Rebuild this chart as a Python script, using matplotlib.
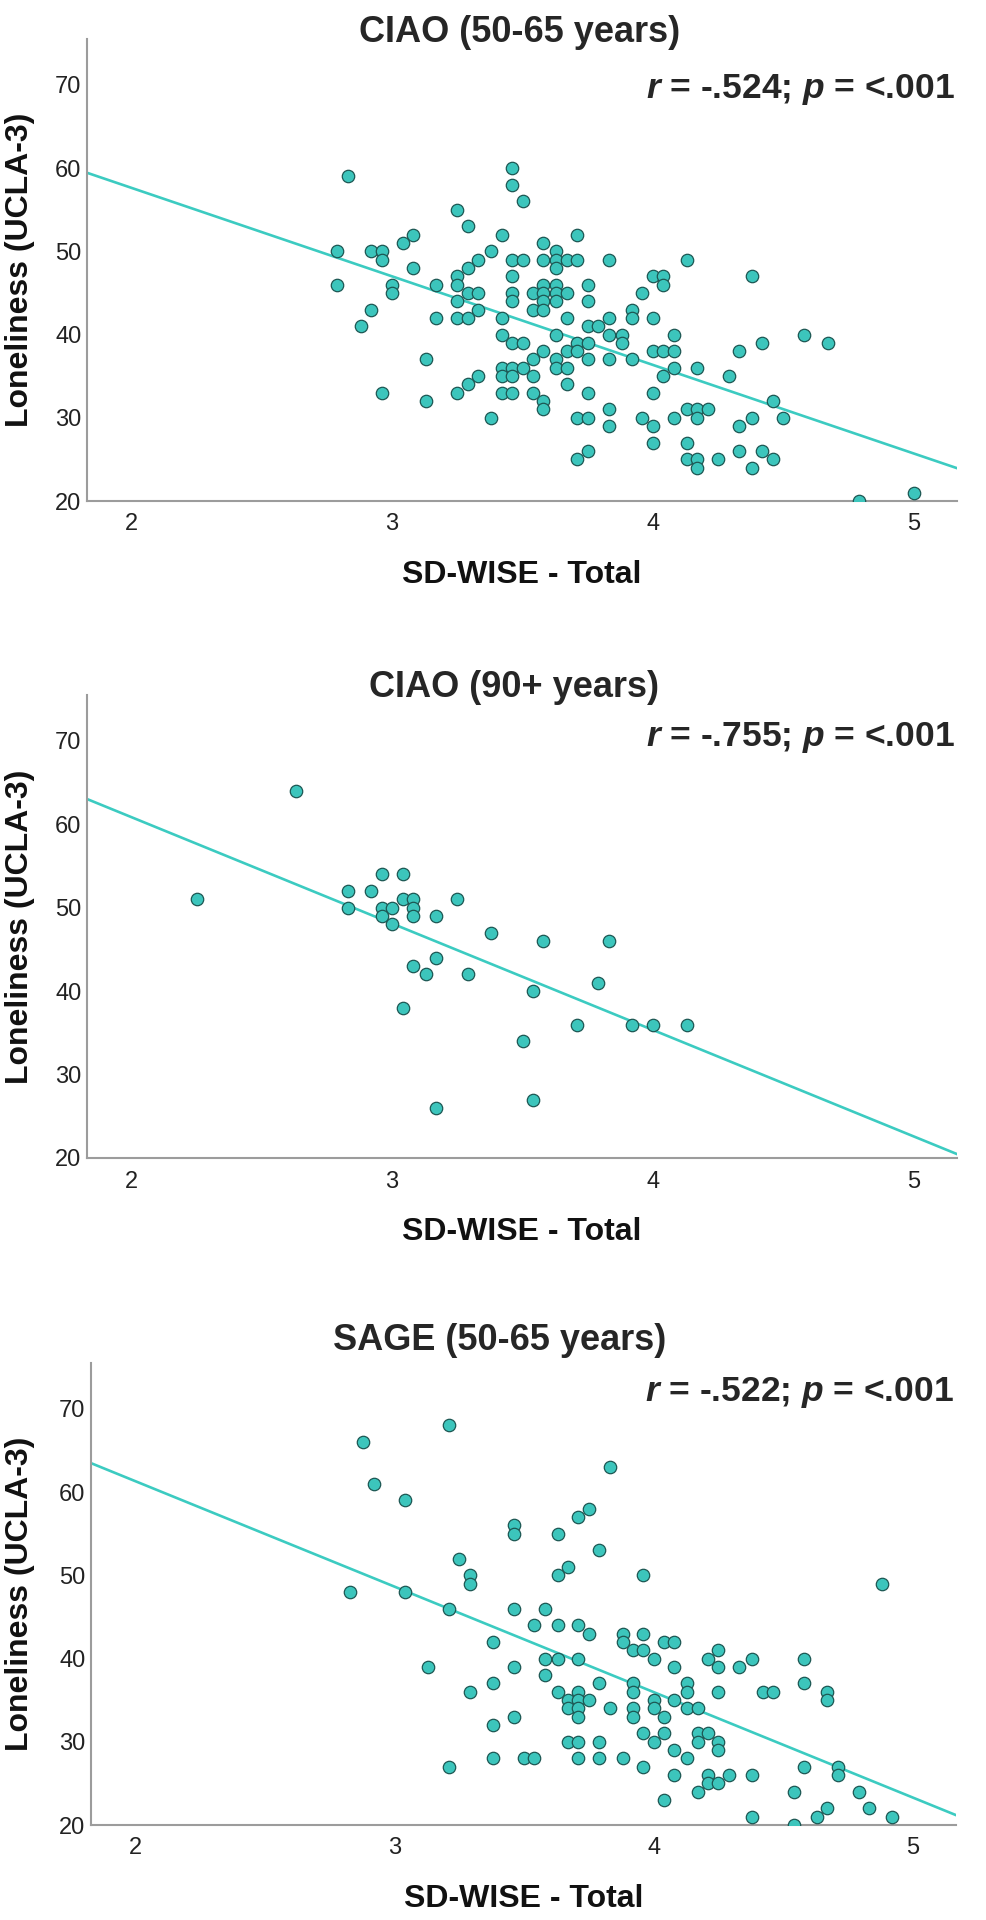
import numpy as np
import matplotlib
matplotlib.use('Agg')
import matplotlib.pyplot as plt

plt.rcParams['font.family'] = ['Liberation Sans', 'DejaVu Sans']
plt.rcParams['mathtext.fontset'] = 'custom'
plt.rcParams['mathtext.it'] = 'Liberation Sans:bold:italic'
plt.rcParams['mathtext.rm'] = 'Liberation Sans:bold'

# --- data ---
titles = ['CIAO (50-65 years)', 'CIAO (90+ years)', 'SAGE (50-65 years)']
stats = ['$r$ = -.524; $p$ = <.001', '$r$ = -.755; $p$ = <.001', '$r$ = -.522; $p$ = <.001']
x_label = 'SD-WISE - Total'
y_label = 'Loneliness (UCLA-3)'
x_ticks = [2, 3, 4, 5]
y_ticks = [20, 30, 40, 50, 60, 70]

ciao_5065_x = [2.83, 3.46, 3.46, 3.50, 3.25, 3.29, 3.08, 3.04, 3.42, 3.71, 3.58, 2.79, 2.92, 2.96, 2.96,
               3.38, 3.63, 3.08, 3.29, 3.25, 3.33, 3.46, 3.50, 3.58, 3.63, 3.67, 3.71, 3.83, 4.13, 3.63,
               3.46, 4.00, 4.04, 4.38, 2.79, 3.00, 3.17, 3.25, 3.58, 3.63, 3.75, 4.04, 3.00, 3.29, 3.33,
               3.46, 3.54, 3.58, 3.63, 3.67, 3.96, 3.25, 3.46, 3.58, 3.63, 3.75, 3.33, 3.54, 3.58, 2.92,
               3.92, 3.25, 3.29, 3.17, 3.42, 3.67, 3.83, 3.92, 4.00, 2.88, 3.75, 3.79, 3.83, 3.42, 3.63,
               3.88, 4.08, 4.58, 3.46, 3.50, 3.71, 3.75, 3.88, 4.42, 4.67, 3.58, 3.67, 3.71, 4.00, 4.04,
               4.08, 4.33, 3.13, 3.54, 3.63, 3.75, 3.83, 3.92, 3.42, 3.46, 3.50, 3.63, 3.67, 4.08, 4.17,
               3.33, 3.42, 3.46, 3.54, 4.04, 4.29, 3.29, 3.67, 2.96, 3.25, 3.42, 3.46, 3.54, 3.75, 4.00,
               3.13, 3.58, 4.46, 3.58, 3.83, 4.13, 4.17, 4.21, 3.38, 3.71, 3.75, 3.96, 4.08, 4.17, 4.38,
               4.50, 3.83, 4.00, 4.33, 4.00, 4.13, 3.75, 4.33, 4.42, 3.71, 4.13, 4.17, 4.25, 4.46, 4.17,
               4.38, 4.79, 5.00]
ciao_5065_y = [59, 60, 58, 56, 55, 53, 52, 51, 52, 52, 51, 50, 50, 50, 49,
               50, 50, 48, 48, 47, 49, 49, 49, 49, 49, 49, 49, 49, 49, 48,
               47, 47, 47, 47, 46, 46, 46, 46, 46, 46, 46, 46, 45, 45, 45,
               45, 45, 45, 45, 45, 45, 44, 44, 44, 44, 44, 43, 43, 43, 43,
               43, 42, 42, 42, 42, 42, 42, 42, 42, 41, 41, 41, 40, 40, 40,
               40, 40, 40, 39, 39, 39, 39, 39, 39, 39, 38, 38, 38, 38, 38,
               38, 38, 37, 37, 37, 37, 37, 37, 36, 36, 36, 36, 36, 36, 36,
               35, 35, 35, 35, 35, 35, 34, 34, 33, 33, 33, 33, 33, 33, 33,
               32, 32, 32, 31, 31, 31, 31, 31, 30, 30, 30, 30, 30, 30, 30,
               30, 29, 29, 29, 27, 27, 26, 26, 26, 25, 25, 25, 25, 25, 24,
               24, 20, 21]

ciao_90_x = [2.63, 2.25, 2.96, 3.04, 2.83, 2.92, 2.83, 2.96, 3.00, 3.04, 3.08, 3.08, 2.96, 3.08, 3.17,
             3.00, 3.25, 3.38, 3.58, 3.83, 3.17, 3.08, 3.13, 3.29, 3.79, 3.54, 3.04, 3.71, 3.92, 4.00,
             4.13, 3.50, 3.54, 3.17]
ciao_90_y = [64, 51, 54, 54, 52, 52, 50, 50, 50, 51, 51, 50, 49, 49, 49,
             48, 51, 47, 46, 46, 44, 43, 42, 42, 41, 40, 38, 36, 36, 36,
             36, 34, 27, 26]

sage_x = [3.21, 2.88, 2.92, 3.04, 3.83, 3.75, 3.71, 3.46, 3.46, 3.63, 3.79, 3.25, 3.29, 3.29, 3.63,
          3.67, 3.96, 4.88, 2.83, 3.04, 3.21, 3.46, 3.58, 3.54, 3.63, 3.71, 3.75, 3.88, 3.88, 3.96,
          4.04, 4.08, 3.38, 3.92, 3.96, 4.25, 3.58, 3.63, 3.71, 4.00, 4.21, 4.38, 4.58, 3.13, 3.46,
          4.08, 4.25, 4.33, 3.58, 3.38, 3.79, 3.92, 4.13, 4.58, 3.29, 3.63, 3.71, 3.92, 4.13, 4.25,
          4.42, 4.46, 4.67, 3.67, 3.71, 3.75, 4.00, 4.08, 4.67, 3.67, 3.71, 3.83, 3.92, 4.00, 4.13,
          4.17, 3.71, 3.92, 4.04, 3.46, 3.38, 3.96, 4.04, 4.17, 4.21, 3.67, 3.71, 3.79, 4.00, 4.17,
          4.25, 4.08, 4.25, 3.38, 3.50, 3.54, 3.71, 3.79, 3.88, 4.13, 3.21, 3.96, 4.58, 4.71, 4.71,
          4.08, 4.21, 4.29, 4.38, 4.21, 4.25, 4.17, 4.54, 4.79, 4.04, 4.67, 4.83, 4.38, 4.63, 4.92,
          4.54]
sage_y = [68, 66, 61, 59, 63, 58, 57, 56, 55, 55, 53, 52, 50, 49, 50,
          51, 50, 49, 48, 48, 46, 46, 46, 44, 44, 44, 43, 43, 42, 43,
          42, 42, 42, 41, 41, 41, 40, 40, 40, 40, 40, 40, 40, 39, 39,
          39, 39, 39, 38, 37, 37, 37, 37, 37, 36, 36, 36, 36, 36, 36,
          36, 36, 36, 35, 35, 35, 35, 35, 35, 34, 34, 34, 34, 34, 34,
          34, 33, 33, 33, 33, 32, 31, 31, 31, 31, 30, 30, 30, 30, 30,
          30, 29, 29, 28, 28, 28, 28, 28, 28, 28, 27, 27, 27, 27, 26,
          26, 26, 26, 26, 25, 25, 24, 24, 24, 23, 22, 22, 21, 21, 21,
          20]

xs = [ciao_5065_x, ciao_90_x, sage_x]
ys = [ciao_5065_y, ciao_90_y, sage_y]

# --- layout (pixels of a 986x1920 canvas) ---
W, H = 986, 1920
ax_px = [(87, 39, 957, 501), (87, 695, 957, 1158), (91, 1363, 956, 1825)]  # left, top, right, bottom
title_px = [(520, 42), (514, 697), (500, 1350)]
stat_y = [69.4, 70.4, 71.9]

face = '#3cc5bc'
edge = '#1d5753'
line_c = '#3ccbc1'
spine_c = '#9c9c9c'
txt_c = '#262626'

fig = plt.figure(figsize=(W / 100, H / 100), dpi=100)

for i in range(3):
    l, t, r, b = ax_px[i]
    ax = fig.add_axes([l / W, 1 - b / H, (r - l) / W, (b - t) / H])
    x = np.array(xs[i])
    y = np.array(ys[i])
    ax.set_xlim(1.83, 5.166)
    ax.set_ylim(20, 75.5)

    # fit line like SPSS "fit line at total"
    k, c = np.polyfit(x, y, 1)
    xx = np.array(ax.get_xlim())
    ax.plot(xx, k * xx + c, color=line_c, lw=1.9, zorder=2)
    ax.scatter(x, y, s=80, c=face, edgecolors=edge, linewidths=0.9, zorder=3)

    for s in ['top', 'right']:
        ax.spines[s].set_visible(False)
    for s in ['left', 'bottom']:
        ax.spines[s].set_color(spine_c)
        ax.spines[s].set_linewidth(1.5)
    ax.set_xticks(x_ticks)
    ax.set_yticks(y_ticks)
    ax.tick_params(axis='both', length=0, labelsize=17, labelcolor='#222222')
    ax.tick_params(axis='y', pad=4)
    ax.tick_params(axis='x', pad=9)

    ax.text(0.998, stat_y[i], stats[i], transform=ax.get_yaxis_transform(),
            ha='right', va='center', fontsize=25.5, fontweight='bold', color=txt_c)

    fig.text(title_px[i][0] / W, 1 - title_px[i][1] / H, titles[i], ha='center', va='baseline',
             fontsize=26, fontweight='bold', color=txt_c)
    fig.text((l + r) / 2 / W, 1 - (b + 74) / H, x_label, ha='center', va='center',
             fontsize=23, fontweight='bold', color='#111111')
    fig.text(20 / W, 1 - (t + b) / 2 / H, y_label, ha='center', va='center', rotation=90,
             fontsize=23, fontweight='bold', color='#111111')

fig.savefig('out.png', dpi=100)
